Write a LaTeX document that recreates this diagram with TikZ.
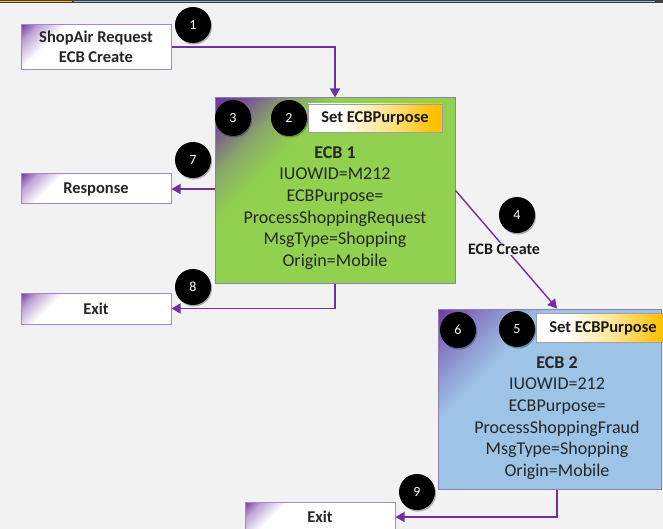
\documentclass[tikz,border=0pt]{standalone}
\usepackage{fontspec}
\setmainfont{Carlito}
\usetikzlibrary{arrows.meta,shadows}

\definecolor{flowpurple}{HTML}{7030A0}
\definecolor{boxedge}{HTML}{A586CB}
\definecolor{ecbedge}{HTML}{8C80B0}
\definecolor{ecbgreen}{HTML}{92D050}
\definecolor{ecbblue}{HTML}{9DC3E6}
\definecolor{setorange}{HTML}{FFC000}
\definecolor{setyellow}{HTML}{FFE38A}
\definecolor{canvas}{HTML}{F2F2F2}
\definecolor{stripblue}{HTML}{9DB5CF}

% corner fades: deep purple in the top-left corner, melting into the fill
\pgfdeclarehorizontalshading{cornerwhite}{100bp}{color(0bp)=(flowpurple); color(14bp)=(flowpurple); color(21bp)=(flowpurple!45!white); color(31bp)=(white); color(100bp)=(white)}
\pgfdeclarehorizontalshading{cornergreen}{100bp}{color(0bp)=(flowpurple); color(14bp)=(flowpurple); color(20bp)=(flowpurple!55!gray); color(27bp)=(ecbgreen!45!gray); color(35bp)=(ecbgreen); color(100bp)=(ecbgreen)}
\pgfdeclarehorizontalshading{cornerblue}{100bp}{color(0bp)=(flowpurple); color(14bp)=(flowpurple); color(22bp)=(flowpurple!50!ecbblue); color(34bp)=(ecbblue); color(100bp)=(ecbblue)}
% white-to-orange banner
\pgfdeclarehorizontalshading{setfade}{100bp}{color(0bp)=(white); color(36bp)=(white); color(55bp)=(setyellow); color(72bp)=(setorange); color(100bp)=(setorange)}

\tikzset{
  stepnum/.style={circle, fill=black, text=white, minimum size=36pt, inner sep=0pt,
    font=\fontsize{14}{14}\selectfont,
    drop shadow={shadow xshift=1pt, shadow yshift=-1.5pt, fill=black, opacity=0.3}},
  endbox/.style={draw=boxedge, line width=1pt, shading=cornerwhite, shading angle=-45,
    minimum width=150pt, inner sep=0pt, align=center, text=black!85,
    font=\bfseries\fontsize{16.5}{20}\selectfont},
  ecbbox/.style={draw=ecbedge, line width=1pt, inner sep=0pt, shading angle=-45},
  ecbtext/.style={align=center, inner sep=0pt, text=black!85,
    font=\fontsize{18}{21.7}\selectfont},
  setbox/.style={draw=gray!75, line width=0.8pt, shading=setfade, minimum width=134pt,
    inner sep=0pt, text=black!90, font=\bfseries\fontsize{16.5}{20}\selectfont},
  flow/.style={draw=flowpurple, line width=1.4pt, -{Triangle[length=9pt,width=10pt]}},
  flowlabel/.style={fill=canvas, inner sep=1pt, text=black!90,
    font=\bfseries\fontsize{16}{19}\selectfont}
}

\begin{document}
\begin{tikzpicture}[x=1pt, y=-1pt]
  \useasboundingbox (0,0) rectangle (663,529);
  \fill[canvas] (0,0) rectangle (663,529);

  % thin window strip along the top edge
  \fill[black!75] (0,0) rectangle (663,3);
  \fill[setorange] (0,0.8) rectangle (72,2.4);
  \fill[stripblue] (74,0.8) rectangle (655,2.4);

  % request and terminal boxes
  \node[endbox, minimum height=45pt] (req) at (96,47) {ShopAir Request\\ECB Create};
  \node[endbox, minimum height=30pt] (resp) at (96,189) {Response};
  \node[endbox, minimum height=31pt] (exit1) at (96,308.5) {Exit};
  \node[endbox, minimum height=30pt] (exit3) at (320,517) {Exit};

  % first ECB
  \node[ecbbox, shading=cornergreen, minimum width=240pt, minimum height=185pt] (ecb1) at (335,190.5) {};
  \node[ecbtext] (ecb1text) at (335,208)
    {\textbf{ECB 1}\\IUOWID=M212\\ECBPurpose=\\ProcessShoppingRequest\\MsgType=Shopping\\Origin=Mobile};
  \node[setbox, minimum height=28pt] (set1) at (375,118) {Set ECBPurpose};

  % second ECB
  \node[ecbbox, shading=cornerblue, minimum width=223pt, minimum height=180pt] (ecb2) at (549.5,399) {};
  \node[ecbtext] (ecb2text) at (557,418)
    {\textbf{ECB 2}\\IUOWID=212\\ECBPurpose=\\ProcessShoppingFraud\\MsgType=Shopping\\Origin=Mobile};
  \node[setbox, minimum height=29pt] (set2) at (603,328) {Set ECBPurpose};

  % connectors
  \draw[flow] (req.east) -| (ecb1.north);
  \draw[flow] (ecb1.west |- resp.east) -- (resp.east);
  \draw[flow] (ecb1.south) |- (exit1.east);
  \draw[flow] (ecb1.east) -- (ecb2text |- ecb2.north);
  \draw[flow] (ecb2text |- ecb2.south) |- (exit3.east);
  \node[flowlabel] (createlbl) at (504,249) {ECB Create};

  % step numbers
  \node[stepnum] (s1) at (193,25) {1};
  \node[stepnum] (s2) at (289,118) {2};
  \node[stepnum] (s3) at (233,118) {3};
  \node[stepnum] (s4) at (517,215) {4};
  \node[stepnum] (s5) at (517,329) {5};
  \node[stepnum] (s6) at (458,330) {6};
  \node[stepnum] (s7) at (193,160) {7};
  \node[stepnum] (s8) at (193,287) {8};
  \node[stepnum] (s9) at (417,492) {9};
\end{tikzpicture}
\end{document}
